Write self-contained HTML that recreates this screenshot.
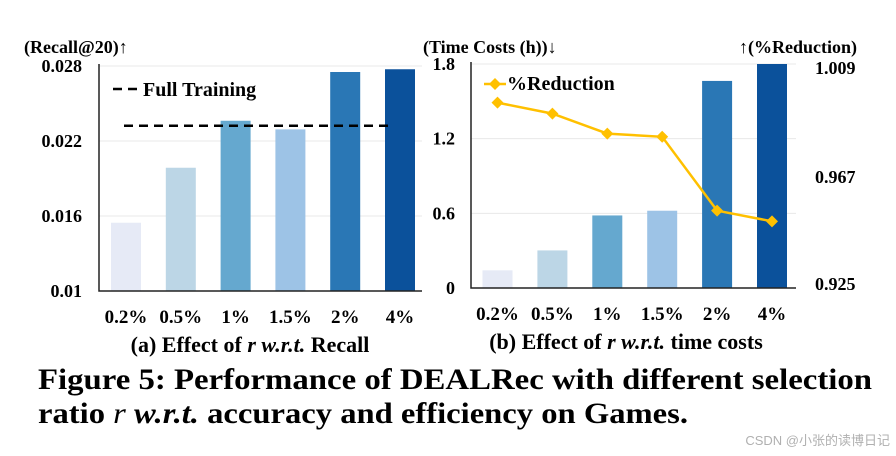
<!DOCTYPE html>
<html><head><meta charset="utf-8"><style>
html,body{margin:0;padding:0;background:#fff;}
svg{display:block;}
text{font-family:"Liberation Serif",serif;font-weight:bold;fill:#000;}
</style></head><body>
<svg id="fig" width="896" height="456" viewBox="0 0 896 456">
<g id="chartA"></g>
<g id="chartB"></g>
<text x="38" y="389" font-size="30" textLength="834" lengthAdjust="spacingAndGlyphs">Figure 5: Performance of DEALRec with different selection</text>
<text x="38" y="423" font-size="30" textLength="650" lengthAdjust="spacingAndGlyphs">ratio <tspan font-style="italic" font-weight="normal">r</tspan> <tspan font-style="italic">w.r.t.</tspan> accuracy and efficiency on Games.</text>
<text x="890" y="445" font-size="13" text-anchor="end" style="font-family:'Liberation Sans','Noto Sans CJK SC',sans-serif;font-weight:normal;fill:#b0b0b0">CSDN @小张的读博日记</text>
</svg>
<script>
const categories = ["0.2%","0.5%","1%","1.5%","2%","4%"];
const recallValues = [0.01546,0.01986,0.02362,0.02293,0.02752,0.02774];
const fullTraining = 0.02322;
const recallTicks = [0.01,0.016,0.022,0.028];
const recallTickLabels = ["0.01","0.016","0.022","0.028"];
const timeValues = [0.142,0.302,0.583,0.621,1.664,1.8];
const timeTicks = [0,0.6,1.2,1.8];
const timeTickLabels = ["0","0.6","1.2","1.8"];
const reductionValues = [0.9945,0.9904,0.9829,0.9817,0.954,0.950];
const reductionTicks = [0.925,0.967,1.009];
const reductionTickLabels = ["0.925","0.967","1.009"];
const colors = ["#e6eaf6","#bcd6e6","#65a8cf","#9dc3e6","#2a77b5","#0b519b"];
const NS="http://www.w3.org/2000/svg";
function mk(parent,tag,attrs,txt){const e=document.createElementNS(NS,tag);for(const k in attrs)e.setAttribute(k,attrs[k]);if(txt!==undefined)e.textContent=txt;parent.appendChild(e);return e;}

// Chart A
const A=document.getElementById('chartA');
const aX0=99,aX1=422,aYT=66,aYB=291,aMin=0.01,aMax=0.028;
const ay=v=>aYB-(v-aMin)/(aMax-aMin)*(aYB-aYT);
const ax=i=>126+i*54.8;
recallTicks.forEach((t,i)=>{
  if(i>0){const g=mk(A,'line',{x1:aX0,x2:aX1,y1:ay(t),y2:ay(t),stroke:'#e8e8e8','stroke-width':1});
  
  }
  const l=mk(A,'text',{x:82,y:ay(t)+6,'font-size':18,'text-anchor':'end'},recallTickLabels[i]);
  
  
});
recallValues.forEach((v,i)=>{
  const r=mk(A,'rect',{x:ax(i)-15,y:ay(v),width:30,height:aYB-ay(v),fill:colors[i]});
  
  
  const t=mk(A,'text',{x:ax(i),y:323,'font-size':19,'text-anchor':'middle'},categories[i]);
  
  
});
mk(A,'path',{d:`M${aX0} ${aYT-2}V${aYB}H${aX1}`,fill:'none',stroke:'#222','stroke-width':1.5});
const ft=mk(A,'line',{x1:124,x2:394,y1:ay(fullTraining),y2:ay(fullTraining),stroke:'#000','stroke-width':2.5,'stroke-dasharray':'9,6'});


const lg=mk(A,'g',{});


mk(lg,'line',{x1:113,x2:142,y1:89,y2:89,stroke:'#000','stroke-width':2.5,'stroke-dasharray':'9,6'});
mk(lg,'text',{x:143,y:96,'font-size':20},'Full Training');
const at=mk(A,'text',{x:24,y:53,'font-size':18},'(Recall@20)\u2191');


const ca=mk(A,'text',{x:250,y:352,'font-size':22,'text-anchor':'middle'});


ca.innerHTML='(a) Effect of <tspan font-style="italic">r w.r.t.</tspan> Recall';

// Chart B
const B=document.getElementById('chartB');
const bX0=471,bX1=796,bYT=64,bYB=288;
const by=v=>bYB-v/1.8*(bYB-bYT);
const ry=v=>bYB-(v-0.925)/(1.009-0.925)*(bYB-bYT);
const bx=i=>497.5+i*54.9;
timeTicks.forEach((t,i)=>{
  if(i>0){const g=mk(B,'line',{x1:bX0,x2:bX1,y1:by(t),y2:by(t),stroke:'#e8e8e8','stroke-width':1});
  
  }
  const l=mk(B,'text',{x:455,y:by(t)+6,'font-size':18,'text-anchor':'end'},timeTickLabels[i]);
  
  
});
reductionTicks.forEach((t,i)=>{
  const l=mk(B,'text',{x:815,y:ry(t)+(i==2?10:i==0?2:7),'font-size':18},reductionTickLabels[i]);
  
  
});
timeValues.forEach((v,i)=>{
  const r=mk(B,'rect',{x:bx(i)-15,y:by(v),width:30,height:bYB-by(v),fill:colors[i]});
  
  
  const t=mk(B,'text',{x:bx(i),y:320,'font-size':19,'text-anchor':'middle'},categories[i]);
  
  
});
mk(B,'path',{d:`M${bX0} ${bYT-2}V${bYB}H${bX1}`,fill:'none',stroke:'#222','stroke-width':1.5});
const pl=mk(B,'polyline',{points:reductionValues.map((v,i)=>bx(i)+','+ry(v)).join(' '),fill:'none',stroke:'#ffc000','stroke-width':2.5});


reductionValues.forEach((v,i)=>{
  const x=bx(i),y=ry(v);
  const d=mk(B,'path',{d:`M${x} ${y-6}L${x+6} ${y}L${x} ${y+6}L${x-6} ${y}Z`,fill:'#ffc000'});
  
  
});
const lg2=mk(B,'g',{});


mk(lg2,'line',{x1:484,x2:506,y1:84,y2:84,stroke:'#ffc000','stroke-width':2.5});
mk(lg2,'path',{d:'M495 78L501 84L495 90L489 84Z',fill:'#ffc000'});
mk(lg2,'text',{x:507,y:90,'font-size':20},'%Reduction');
const bt=mk(B,'text',{x:423,y:53,'font-size':18},'(Time Costs (h))\u2193');


const rt=mk(B,'text',{x:857,y:53,'font-size':18,'text-anchor':'end'},'\u2191(%Reduction)');


const cb=mk(B,'text',{x:626,y:349,'font-size':22,'text-anchor':'middle'});


cb.innerHTML='(b) Effect of <tspan font-style="italic">r w.r.t.</tspan> time costs';
</script>
</body></html>
